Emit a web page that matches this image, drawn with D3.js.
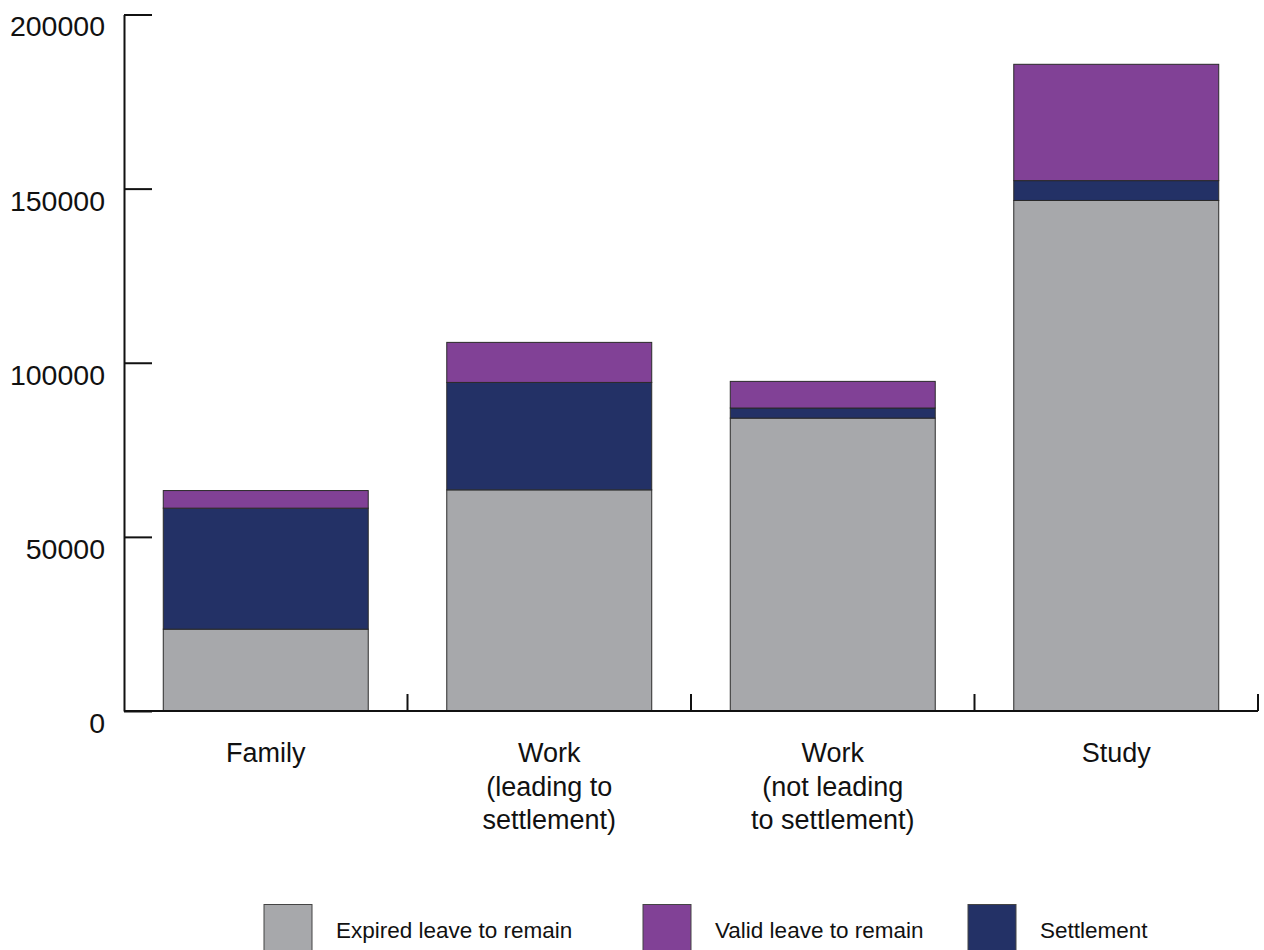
<!DOCTYPE html>
<html>
<head>
<meta charset="utf-8">
<script src="https://cdn.jsdelivr.net/npm/d3@7"></script>
<style>
  body { margin: 0; background: #fff; }
  text { font-family: "Liberation Sans", Arial, sans-serif; fill: #111; }
</style>
</head>
<body>
<svg id="chart" width="1264" height="950"></svg>
<script>
// categories (multi-line labels) and series values
const categories = ["Family", "Work (leading)", "Work (not leading)", "Study"];
const categoryLines = [
  ["Family"],
  ["Work", "(leading to", "settlement)"],
  ["Work", "(not leading", "to settlement)"],
  ["Study"]
];
const seriesNames = ["Expired leave to remain", "Settlement", "Valid leave to remain"];
const expired    = [23500, 63500, 84100, 146600];
const settlement = [34750, 30850, 2900, 5700];
const valid      = [5050, 11500, 7650, 33400];
const yTicks = [0, 50000, 100000, 150000, 200000];
const legendOrder = ["Expired leave to remain", "Valid leave to remain", "Settlement"];

const colors = {
  "Expired leave to remain": "#a7a8ab",
  "Valid leave to remain": "#814196",
  "Settlement": "#233166"
};

const svg = d3.select("#chart");
const margin = { top: 14.5, right: 6, bottom: 239, left: 124 };
const width = 1264, height = 950;
const innerW = width - margin.left - margin.right;
const innerH = height - margin.top - margin.bottom;

const g = svg.append("g").attr("transform", `translate(${margin.left},${margin.top})`);

const x = d3.scaleBand().domain(categories).range([0, innerW]).padding(0);
const y = d3.scaleLinear().domain([0, 200000]).range([innerH, 0]);

// build rows for stacking
const rows = categories.map((c, i) => ({
  cat: c,
  "Expired leave to remain": expired[i],
  "Settlement": settlement[i],
  "Valid leave to remain": valid[i]
}));
const stacked = d3.stack().keys(seriesNames)(rows);

const barW = x.bandwidth() * 0.723;
const inset = (x.bandwidth() - barW) / 2;

g.selectAll(".layer")
  .data(stacked)
  .enter().append("g")
  .attr("fill", d => colors[d.key])
  .selectAll("rect")
  .data(d => d)
  .enter().append("rect")
  .attr("x", d => x(d.data.cat) + inset)
  .attr("y", d => y(d[1]))
  .attr("width", barW)
  .attr("height", d => y(d[0]) - y(d[1]))
  .attr("stroke", "#2a2a2a")
  .attr("stroke-width", 1);

// y axis: ticks pointing inward, labels hanging below the tick
const yAxis = g.append("g")
  .call(d3.axisLeft(y).tickValues(yTicks).tickSize(-28).tickSizeOuter(0).tickFormat(d3.format("d")));
yAxis.select(".domain").attr("stroke", "#111").attr("stroke-width", 2);
yAxis.selectAll(".tick line").attr("stroke", "#111").attr("stroke-width", 2);
yAxis.selectAll(".tick text")
  .attr("x", -19)
  .attr("dy", "0.75em")
  .style("font-size", "28.5px")
  .style("font-family", "Liberation Sans, Arial, sans-serif")
  .attr("fill", "#111");

// x axis baseline and ticks at band ends
g.append("line")
  .attr("x1", 0).attr("x2", innerW)
  .attr("y1", innerH).attr("y2", innerH)
  .attr("stroke", "#111").attr("stroke-width", 2);
g.selectAll(".xtick")
  .data(categories)
  .enter().append("line")
  .attr("x1", d => x(d) + x.bandwidth()).attr("x2", d => x(d) + x.bandwidth())
  .attr("y1", innerH).attr("y2", innerH - 17)
  .attr("stroke", "#111").attr("stroke-width", 2);

// category labels
const labels = g.selectAll(".xlabel")
  .data(categories)
  .enter().append("text")
  .attr("text-anchor", "middle")
  .attr("x", d => x(d) + x.bandwidth() / 2)
  .attr("y", innerH + 51)
  .style("font-size", "27px");
labels.each(function (d, i) {
  const t = d3.select(this);
  categoryLines[i].forEach((line, j) => {
    t.append("tspan")
      .attr("x", x(d) + x.bandwidth() / 2)
      .attr("dy", j === 0 ? 0 : 33.5)
      .text(line);
  });
});

// legend
const legendX = [264, 643, 968];
const legend = svg.append("g");
legendOrder.forEach((name, i) => {
  legend.append("rect")
    .attr("x", legendX[i]).attr("y", 904.5)
    .attr("width", 48).attr("height", 60)
    .attr("fill", colors[name])
    .attr("stroke", "#444").attr("stroke-width", 1);
  legend.append("text")
    .attr("x", legendX[i] + 72).attr("y", 938)
    .style("font-size", "22.5px")
    .text(name);
});
</script>
</body>
</html>
